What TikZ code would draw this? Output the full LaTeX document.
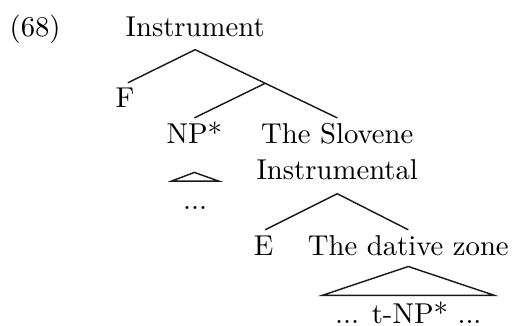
\documentclass[tikz,border=0pt]{standalone}
\usepackage{xcolor}
\usetikzlibrary{calc}
\definecolor{treeink}{HTML}{1A1A1A}
\tikzset{
  word/.style={text=black, inner sep=0pt, anchor=base},
  treeline/.style={treeink, line width=0.5pt},
}
\newcommand{\treeroof}[3]{%
  \draw[treeline] (#1) -- ([xshift=-#3, yshift=9.75pt]#2.base)
    -- ([xshift=#3, yshift=9.75pt]#2.base) -- cycle;
}

\begin{document}
\begin{tikzpicture}[x=1cm, y=1cm, every node/.style={font=\normalsize}]
  \useasboundingbox (0,0) rectangle (6.27,3.98);

  \node[word] (num) at (0.43,3.53) {(68)};
  \node[word] (inst) at (2.39,3.53) {Instrument};
  \node[word] (f) at (1.53,2.66) {F};
  \node[word] (np) at (2.38,2.22) {NP*};
  \node[word] (slo) at (4.13,2.22) {The Slovene};
  \node[word] (instal) at (4.13,1.78) {Instrumental};
  \node[word] (dots) at (2.39,1.42) {...};
  \node[word] (e) at (3.23,0.85) {E};
  \node[word] (dat) at (5.00,0.85) {The dative zone};
  \node[word] (tnp) at (5.00,0.02) {... t-NP* ...};

  % branch ends
  \coordinate (instB) at ([yshift=-4.5pt]inst.base);
  \coordinate (fT) at ([xshift=1pt, yshift=8.7pt]f.base);
  \coordinate (sloT) at ([yshift=9pt]slo.base);
  \coordinate (npT) at ([yshift=9pt]np.base);
  \coordinate (midJ) at ($(instB)!0.493!(sloT)$);
  \coordinate (instalB) at ([yshift=-4.9pt]instal.base);
  \coordinate (eT) at ([xshift=0.5pt, yshift=9pt]e.base);
  \coordinate (datT) at ([yshift=9pt]dat.base);
  \coordinate (npR) at ([yshift=-10pt]np.base);
  \coordinate (datR) at ([yshift=-3.8pt]dat.base);

  \draw[treeline] (fT) -- (instB) -- (sloT);
  \draw[treeline] (midJ) -- (npT);
  \draw[treeline] (eT) -- (instalB) -- (datT);

  \treeroof{npR}{dots}{8.2pt}
  \treeroof{datR}{tnp}{30pt}

\end{tikzpicture}
\end{document}
